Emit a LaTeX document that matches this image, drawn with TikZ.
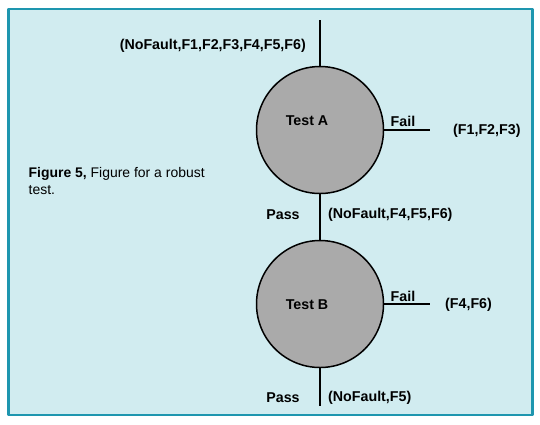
\documentclass[tikz,border=0pt]{standalone}
\usepackage{fontspec}
\setmainfont{Liberation Sans}
\usetikzlibrary{positioning}
\definecolor{panelbg}{RGB}{209,236,240}
\definecolor{panelrim}{RGB}{30,150,175}
\definecolor{testgray}{RGB}{170,170,170}

\begin{document}
\begin{tikzpicture}[x=1bp, y=-1bp, line cap=butt, line join=round,
    testnode/.style={circle, draw=black, line width=1.5bp, fill=testgray,
      minimum size=127bp, inner sep=0pt},
    branch/.style={line width=1.2bp},
    lbl/.style={font=\fontsize{14.3}{16}\selectfont\bfseries, inner sep=0pt}]
  % Panel
  \useasboundingbox (0,0) rectangle (540,424);
  \fill[white] (0,0) rectangle (540,424);
  \draw[panelrim, fill=panelbg, line width=2.8bp] (8.5,9) rectangle (532.5,415);

  % Tests
  \node[testnode] (testA) at (320,130) {};
  \node[testnode] (testB) at (320,304) {};
  \node[lbl] (nameA) at (307,121) {Test A};
  \node[lbl] (nameB) at (307,305) {Test B};

  % Free ends
  \coordinate (in)    at (320,20);
  \coordinate (failA) at (430,130);
  \coordinate (failB) at (430,304);
  \coordinate (out)   at (320,406);

  % Branches
  \draw[branch] (in) -- (testA);
  \draw[branch] (testA) -- (testB);
  \draw[branch] (testB) -- (out);
  \draw[branch] (testA.east) -- (failA);
  \draw[branch] (testB.east) -- (failB);

  % Labels
  \node[lbl, anchor=east] (setIn) at (306,46) {(NoFault,F1,F2,F3,F4,F5,F6)};
  \node[lbl] (failLblA) at (403,121) {Fail};
  \node[lbl, anchor=west] (setFailA) at (453,131) {(F1,F2,F3)};
  \node[lbl] (passLblA) at (283,215) {Pass};
  \node[lbl, anchor=west] (setPassA) at (328,215) {(NoFault,F4,F5,F6)};
  \node[lbl] (failLblB) at (403,296) {Fail};
  \node[lbl, anchor=west] (setFailB) at (445,305) {(F4,F6)};
  \node[lbl] (passLblB) at (283,398) {Pass};
  \node[lbl, anchor=west] (setPassB) at (328,398) {(NoFault,F5)};

  % Caption
  \node[anchor=north west, align=left, inner sep=0pt,
    font=\fontsize{14}{17}\selectfont] (caption) at (28.5,167)
    {\textbf{Figure 5,} Figure for a robust\\test.};
\end{tikzpicture}
\end{document}
